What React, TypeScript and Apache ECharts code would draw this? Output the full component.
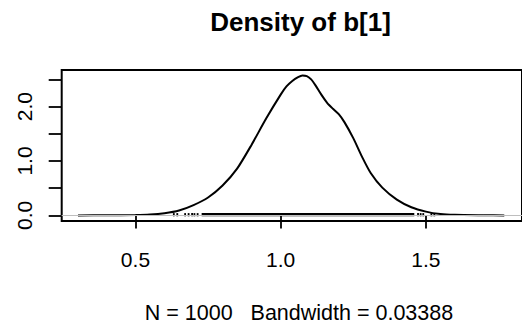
import React, { useEffect, useRef } from "react";
import * as echarts from "echarts";

// ---- data ----
const titleText = "Density of b[1]";
const nObs = 1000;
const bandwidth = "0.03388";

const densityX = [0.302, 0.40, 0.50, 0.55, 0.60, 0.65, 0.70, 0.75, 0.80, 0.85, 0.90, 0.95, 1.00, 1.02, 1.04, 1.06, 1.075, 1.09, 1.105, 1.12, 1.14, 1.16, 1.18, 1.20, 1.22, 1.25, 1.28, 1.31, 1.35, 1.40, 1.45, 1.50, 1.55, 1.60, 1.70, 1.77];
const densityY = [0.0, 0.002, 0.006, 0.015, 0.04, 0.09, 0.19, 0.33, 0.55, 0.86, 1.30, 1.78, 2.22, 2.37, 2.47, 2.54, 2.57, 2.56, 2.50, 2.39, 2.22, 2.07, 1.96, 1.86, 1.71, 1.42, 1.08, 0.78, 0.51, 0.29, 0.15, 0.07, 0.025, 0.01, 0.003, 0.0];

// individual observations visible at the tails of the rug, and the dense band between them
const rugSingles = [0.632, 0.644, 0.671, 0.683, 0.695, 0.703, 0.714, 1.473, 1.482, 1.491, 1.519, 1.529];
const rugBand = [[0.731, 1.457]];

const xTicks = [0.5, 1.0, 1.5];
const yTicks = [0, 0.5, 1.0, 1.5, 2.0, 2.5];
const yLabels = [0, 1.0, 2.0];

const FONT = "Liberation Sans, Arial, Helvetica, sans-serif";

export default function App() {
  const ref = useRef<HTMLDivElement>(null);
  useEffect(() => {
    if (!ref.current) return;
    const chart = echarts.init(ref.current, null, { renderer: "svg" });
    const ymax = Math.max(...densityY);
    const rugH = ymax / 100;
    const rugData = [
      ...rugSingles.map((v) => [v, v]),
      ...rugBand.map((r) => [r[0], r[1]]),
    ];
    chart.setOption({
      animation: false,
      backgroundColor: "#ffffff",
      title: [
        {
          text: titleText,
          left: 295.5,
          top: 4,
          textAlign: "center",
          textStyle: { fontFamily: FONT, fontWeight: "bold", fontSize: 26, color: "#000" },
        },
        {
          text: `N = ${nObs}   Bandwidth = ${bandwidth}`,
          left: 294,
          top: 297,
          textAlign: "center",
          textStyle: { fontFamily: FONT, fontWeight: "normal", fontSize: 21.5, color: "#000" },
        },
      ],
      grid: {
        left: 61.7,
        top: 70,
        width: 468,
        height: 151,
        show: true,
        borderColor: "#000",
        borderWidth: 2,
        backgroundColor: "transparent",
      },
      xAxis: {
        type: "value",
        min: 0.246,
        max: 1.831,
        splitLine: { show: false },
        axisLine: { show: false },
        axisTick: { show: true, inside: false, length: 13, lineStyle: { color: "#000", width: 1.8 }, customValues: xTicks },
        axisLabel: {
          show: true,
          margin: 28,
          fontFamily: FONT,
          fontSize: 21,
          color: "#000",
          customValues: xTicks,
          formatter: (v: number) => v.toFixed(1),
        },
      },
      yAxis: {
        type: "value",
        min: -0.04 * ymax,
        max: 1.04 * ymax,
        splitLine: { show: false },
        axisLine: { show: false },
        axisTick: { show: true, inside: false, length: 13, lineStyle: { color: "#000", width: 1.8 }, customValues: yTicks },
        axisLabel: {
          show: true,
          rotate: 90,
          margin: 27,
          fontFamily: FONT,
          fontSize: 21,
          color: "#000",
          customValues: yLabels,
          formatter: (v: number) => v.toFixed(1),
        },
      },
      series: [
        {
          type: "line",
          z: 1,
          data: [],
          silent: true,
          markLine: {
            silent: true,
            symbol: "none",
            label: { show: false },
            lineStyle: { color: "#bebebe", width: 1, type: "solid" },
            data: [{ yAxis: 0 }],
          },
        },
        {
          type: "line",
          z: 2,
          data: densityX.map((x, i) => [x, densityY[i]]),
          smooth: 0.25,
          symbol: "none",
          lineStyle: { color: "#000", width: 2 },
          silent: true,
        },
        {
          type: "custom",
          z: 3,
          silent: true,
          data: rugData,
          renderItem: (params: any, api: any) => {
            const p0 = api.coord([api.value(0), 0]);
            const p1 = api.coord([api.value(1), rugH]);
            return {
              type: "rect",
              shape: {
                x: p0[0] - 0.9,
                y: p1[1] - 0.9,
                width: p1[0] - p0[0] + 1.8,
                height: p0[1] - p1[1] + 1.8,
              },
              style: { fill: "#000" },
            };
          },
        },
      ],
    });
    return () => chart.dispose();
  }, []);
  return (
    <div
      ref={ref}
      style={{ position: "fixed", left: 0, top: 0, width: 522, height: 326, background: "#fff" }}
    />
  );
}
